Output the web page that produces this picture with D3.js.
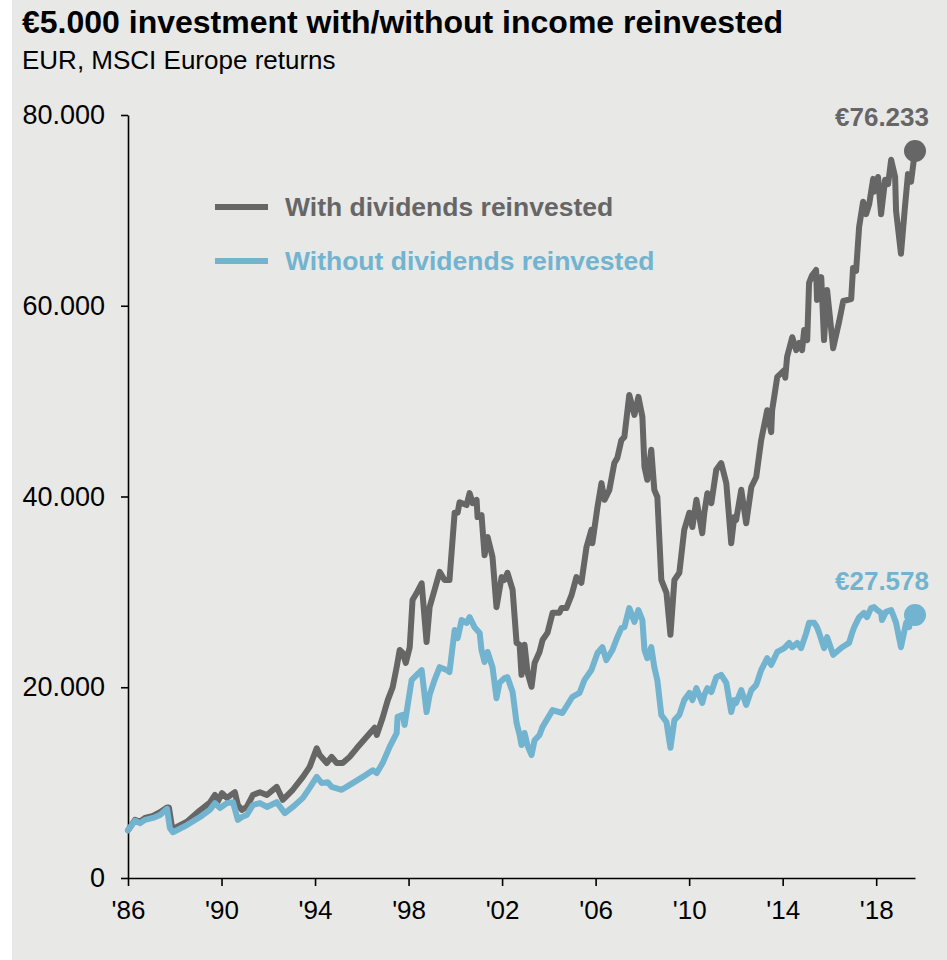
<!DOCTYPE html>
<html>
<head>
<meta charset="utf-8">
<script src="https://cdn.jsdelivr.net/npm/d3@7"></script>
<style>
  html, body { margin: 0; padding: 0; background: #ffffff; }
  svg { display: block; font-family: "Liberation Sans", Arial, sans-serif; }
</style>
</head>
<body>
<svg id="chart" width="947" height="960"></svg>
<script>
// MSCI Europe, growth of a €5.000 investment (EUR), decimal years
const withYears = [
  1986.00, 1986.30, 1986.51, 1986.73, 1987.07, 1987.37, 1987.67, 1987.75, 1987.88,
  1988.01, 1988.52, 1989.08, 1989.50, 1989.72, 1989.84,
  1990.02, 1990.23, 1990.57, 1990.70, 1990.87, 1991.08, 1991.34, 1991.64, 1991.94,
  1992.36, 1992.62, 1993.05, 1993.48, 1993.77,
  1994.07, 1994.20, 1994.50, 1994.71, 1994.93, 1995.18, 1995.48, 1995.78,
  1996.21, 1996.55, 1996.64, 1996.89, 1997.11, 1997.32, 1997.49, 1997.62, 1997.75, 1997.88,
  1998.05, 1998.17, 1998.35, 1998.56, 1998.77, 1998.90, 1999.11, 1999.33, 1999.54, 1999.75, 1999.97,
  2000.10, 2000.18, 2000.48, 2000.61, 2000.74, 2000.91, 2000.95,
  2001.12, 2001.25, 2001.38, 2001.59, 2001.76, 2001.98,
  2002.10, 2002.23, 2002.45, 2002.62, 2002.75, 2002.83, 2002.96,
  2003.09, 2003.26, 2003.39, 2003.60, 2003.73, 2003.94,
  2004.16, 2004.45, 2004.54, 2004.75, 2004.97,
  2005.18, 2005.39, 2005.61, 2005.82, 2005.86,
  2006.08, 2006.25, 2006.38, 2006.59, 2006.80, 2006.93,
  2007.10, 2007.23, 2007.44, 2007.66, 2007.83,
  2008.00, 2008.09, 2008.21, 2008.38, 2008.51, 2008.64, 2008.81,
  2009.03, 2009.20, 2009.37, 2009.58, 2009.79,
  2010.01, 2010.14, 2010.31, 2010.56, 2010.65, 2010.78, 2010.95,
  2011.16, 2011.37, 2011.59, 2011.80, 2011.93,
  2012.01, 2012.23, 2012.44, 2012.66, 2012.87,
  2013.08, 2013.34, 2013.51, 2013.55, 2013.77,
  2014.07, 2014.11, 2014.19, 2014.41, 2014.58, 2014.71, 2014.83, 2014.92,
  2015.05, 2015.13, 2015.26, 2015.43, 2015.47, 2015.65, 2015.77, 2015.90,
  2016.16, 2016.42, 2016.59, 2016.93,
  2017.01, 2017.14, 2017.27, 2017.44, 2017.57, 2017.70, 2017.87, 2017.91,
  2018.08, 2018.21, 2018.38, 2018.51, 2018.64, 2018.81, 2018.85,
  2019.06, 2019.23, 2019.36, 2019.49, 2019.66
];
const withValues = [
  5000, 6100, 5900, 6300, 6500, 6900, 7400, 7400, 5350,
  5250, 5900, 7100, 7900, 8700, 8000,
  8900, 8400, 9000, 7650, 7150, 7450, 8700, 9000, 8700,
  9550, 8200, 9250, 10600, 11650,
  13600, 12900, 12050, 12700, 12050, 12050, 12700, 13600,
  14800, 15750, 15000, 16800, 18650, 20000, 22100, 23900, 23600, 22550,
  24200, 29150, 29900, 30900, 24750, 28400, 30200, 32100, 31250, 31250, 38300,
  38300, 39400, 39100, 40350, 39300, 39650, 37850,
  38050, 33850, 35750, 33650, 28400, 31550,
  31250, 32000, 30200, 24650, 24450, 21300, 24450,
  21500, 20050, 22550, 23700, 24950, 25700,
  27800, 27800, 28300, 28300, 29650,
  31550, 30950, 34700, 36500, 35100,
  38900, 41400, 39650, 40700, 43500, 44050,
  45900, 46250, 50650, 48550, 50450,
  48350, 43100, 41750, 44900, 40700, 39950, 31250,
  29900, 25500, 31250, 32000, 36500,
  38300, 36800, 39650, 36150, 38300, 40350, 39300,
  42800, 43500, 41400, 35100, 37850,
  37550, 40700, 37200, 41000, 42050,
  45900, 49050, 46750, 49050, 52550,
  53250, 52450, 54650, 56700, 55350, 56100, 55350, 57450,
  56400, 62400, 63200, 63750, 60600, 63000, 56400, 61650,
  55550, 58400, 60500, 60700,
  63950, 63650, 68250, 70900, 69600, 70650, 73300, 71950,
  73500, 69600, 73200, 72750, 75300, 73500, 69950,
  65450, 70350, 73800, 73000, 76233
];

const withoutYears = [
  1986.00, 1986.30, 1986.51, 1986.73, 1987.07, 1987.37, 1987.67, 1987.79, 1987.92,
  1988.52, 1989.08, 1989.50, 1989.72, 1989.93,
  1990.23, 1990.49, 1990.70, 1990.87, 1991.08, 1991.34, 1991.64, 1991.94,
  1992.36, 1992.71, 1993.05, 1993.48, 1993.77,
  1994.07, 1994.29, 1994.54, 1994.71, 1995.14, 1995.61,
  1996.04, 1996.47, 1996.64, 1996.89, 1997.19, 1997.49, 1997.53, 1997.75, 1997.83,
  1998.13, 1998.35, 1998.56, 1998.77, 1998.90, 1999.11, 1999.33, 1999.63, 1999.75, 1999.97,
  2000.10, 2000.27, 2000.48, 2000.61, 2000.82,
  2001.04, 2001.12, 2001.25, 2001.38, 2001.59, 2001.76, 2001.89,
  2002.10, 2002.23, 2002.45, 2002.62, 2002.75, 2002.83, 2002.96,
  2003.09, 2003.26, 2003.39, 2003.60, 2003.73,
  2004.16, 2004.58, 2005.01, 2005.31, 2005.52, 2005.82,
  2006.08, 2006.29, 2006.46, 2006.72, 2006.93,
  2007.10, 2007.23, 2007.44, 2007.66, 2007.83,
  2008.00, 2008.09, 2008.21, 2008.38, 2008.51, 2008.64, 2008.81,
  2009.03, 2009.20, 2009.37, 2009.58, 2009.79,
  2010.01, 2010.14, 2010.31, 2010.56, 2010.65, 2010.78, 2010.95,
  2011.16, 2011.37, 2011.59, 2011.80, 2011.93,
  2012.01, 2012.23, 2012.44, 2012.66, 2012.87,
  2013.08, 2013.34, 2013.51, 2013.77,
  2014.07, 2014.28, 2014.41, 2014.62, 2014.79,
  2015.01, 2015.13, 2015.35, 2015.47, 2015.56, 2015.77, 2015.90,
  2016.16, 2016.54, 2016.84, 2016.97,
  2017.06, 2017.27, 2017.48, 2017.61, 2017.78, 2017.91,
  2018.04, 2018.21, 2018.25, 2018.42, 2018.64, 2018.76, 2018.85,
  2019.06, 2019.28, 2019.41, 2019.53, 2019.66
];
const withoutValues = [
  5000, 6000, 5750, 6100, 6300, 6600, 7250, 5250, 4800,
  5550, 6400, 7150, 7850, 7350,
  7850, 7950, 6100, 6400, 6600, 7650, 7850, 7450,
  7950, 6800, 7450, 8400, 9450,
  10600, 9950, 10050, 9550, 9250, 9950,
  10600, 11300, 11000, 12050, 13750, 15200, 16900, 17100, 16050,
  20750, 21300, 21800, 17400, 19200, 20750, 22100, 21800, 21600, 26000,
  25150, 27050, 26750, 27350, 26300,
  25700, 23900, 22650, 23700, 22100, 18850, 20450,
  20950, 21050, 19500, 16250, 15000, 13950, 15200,
  13850, 12900, 14450, 15000, 15850,
  17600, 17300, 19000, 19400, 20750, 21800,
  23600, 24200, 22850, 23900, 25250,
  26200, 26300, 28300, 26850, 28100,
  27050, 23900, 23050, 24200, 22100, 20750, 17100,
  16350, 13650, 16550, 17100, 18650,
  19400, 18650, 19900, 18350, 19200, 19900, 19500,
  21050, 21300, 20450, 17400, 18650,
  18350, 19700, 18150, 19700, 20250,
  21800, 23050, 22350, 23700,
  24100, 24650, 24200, 24650, 24100,
  25700, 26750, 26750, 26300, 25700, 24100, 25250,
  23400, 24200, 24650, 25700,
  26300, 27350, 27800, 27350, 28300, 28400,
  28100, 27800, 27050, 27900, 28100, 27350, 26750,
  24200, 26750, 26300, 28300, 27578
];

const seriesNames = ["With dividends reinvested", "Without dividends reinvested"];
const seriesColors = ["#666666", "#72b3cf"];
const yTickValues = [0, 20000, 40000, 60000, 80000];
const xTickValues = [1986, 1990, 1994, 1998, 2002, 2006, 2010, 2014, 2018];
const titleText = "€5.000 investment with/without income reinvested";
const subtitleText = "EUR, MSCI Europe returns";

const series = [
  { name: seriesNames[0], color: seriesColors[0], points: d3.zip(withYears, withValues) },
  { name: seriesNames[1], color: seriesColors[1], points: d3.zip(withoutYears, withoutValues) }
];

const euro = d3.formatLocale({ decimal: ",", thousands: ".", grouping: [3], currency: ["€", ""] });
const fmtThousands = euro.format(",");

const svg = d3.select("#chart");

svg.append("rect")
  .attr("x", 12).attr("y", 0)
  .attr("width", 935).attr("height", 960)
  .attr("fill", "#e8e8e6");

svg.append("text")
  .attr("x", 22).attr("y", 33)
  .attr("font-size", 32).attr("font-weight", "bold")
  .attr("fill", "#000")
  .text(titleText);

svg.append("text")
  .attr("x", 22).attr("y", 69)
  .attr("font-size", 26)
  .attr("fill", "#000")
  .text(subtitleText);

const x = d3.scaleLinear().domain([1986, 2019.66]).range([128, 915]);
const y = d3.scaleLinear().domain([0, 80000]).range([878, 115]);

const yAxis = svg.append("g")
  .attr("transform", `translate(${x.range()[0]},0)`)
  .call(d3.axisLeft(y).tickValues(yTickValues).tickSize(7).tickSizeOuter(0)
    .tickPadding(16).tickFormat(fmtThousands));

const xAxis = svg.append("g")
  .attr("transform", `translate(0,${y(0)})`)
  .call(d3.axisBottom(x).tickValues(xTickValues).tickSize(8).tickSizeOuter(0)
    .tickPadding(15).tickFormat(d => "'" + String(d).slice(2)));

[yAxis, xAxis].forEach(g => {
  g.selectAll("path, line").attr("stroke", "#000").attr("stroke-width", 1.6);
  g.selectAll("text").attr("fill", "#000")
    .attr("font-family", '"Liberation Sans", Arial, sans-serif');
});
yAxis.selectAll("text").attr("font-size", 27);
xAxis.selectAll("text").attr("font-size", 26);

const line = d3.line().x(d => x(d[0])).y(d => y(d[1]));

series.forEach(s => {
  svg.append("path")
    .datum(s.points)
    .attr("fill", "none")
    .attr("stroke", s.color)
    .attr("stroke-width", 6)
    .attr("stroke-linejoin", "round")
    .attr("stroke-linecap", "round")
    .attr("d", line);

  const last = s.points[s.points.length - 1];
  svg.append("circle")
    .attr("cx", x(last[0]))
    .attr("cy", y(last[1]))
    .attr("r", 11)
    .attr("fill", s.color);

  svg.append("text")
    .attr("x", 929)
    .attr("y", y(last[1]) - 25)
    .attr("text-anchor", "end")
    .attr("font-size", 26).attr("font-weight", "bold")
    .attr("fill", s.color)
    .text("€" + fmtThousands(last[1]));
});

// legend
const legend = svg.append("g");
series.forEach((s, i) => {
  const ly = 207 + i * 54;
  legend.append("line")
    .attr("x1", 215).attr("x2", 268)
    .attr("y1", ly).attr("y2", ly)
    .attr("stroke", s.color).attr("stroke-width", 6);
  legend.append("text")
    .attr("x", 285).attr("y", ly + 9)
    .attr("font-size", 26.5).attr("font-weight", "bold")
    .attr("fill", s.color)
    .text(s.name);
});
</script>
</body>
</html>
